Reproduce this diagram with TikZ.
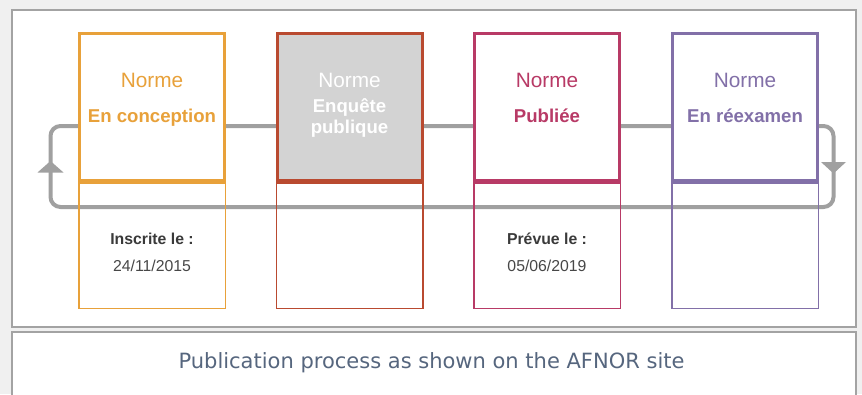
\documentclass[tikz,border=0pt]{standalone}
\usepackage{fontspec}
\setmainfont{Liberation Sans}
\newfontfamily\capfont{DejaVu Sans}
\definecolor{bgc}{HTML}{F0F0F0}
\definecolor{panelc}{HTML}{A3A3A3}
\definecolor{loopc}{HTML}{A0A0A0}
\definecolor{cA}{HTML}{E8A13A}
\definecolor{cB}{HTML}{B94A30}
\definecolor{cC}{HTML}{B83A66}
\definecolor{cD}{HTML}{8270A8}
\definecolor{fillB}{HTML}{D3D3D3}
\definecolor{darkt}{HTML}{3A3A3A}
\definecolor{datet}{HTML}{474747}
\definecolor{capc}{HTML}{56667E}
\tikzset{
  panel/.style={draw=panelc, line width=1.6pt, fill=white},
  loopline/.style={draw=loopc, line width=4pt, rounded corners=10pt},
  upbox/.style={rectangle, fill=white, line width=3pt, minimum width=145pt, minimum height=147pt, inner sep=0pt, outer sep=0pt},
  lowbox/.style={rectangle, line width=1.5pt, minimum width=146.5pt, minimum height=125.5pt, inner sep=0pt, outer sep=0pt},
  normetxt/.style={anchor=base, font=\fontsize{20.8}{24}\selectfont, inner sep=0pt},
  statetxt/.style={anchor=base, font=\fontsize{18.6}{21}\selectfont\bfseries, inner sep=0pt},
  labtxt/.style={anchor=base, font=\fontsize{15.8}{18}\selectfont\bfseries, text=darkt, inner sep=0pt},
  datetxt/.style={anchor=base, font=\fontsize{15.8}{18}\selectfont, text=datet, inner sep=0pt},
  tip/.style={fill=loopc, draw=none}
}
\begin{document}
\begin{tikzpicture}[x=1pt,y=-1pt]
\useasboundingbox (0,0) rectangle (862,394);
\fill[bgc] (0,0) rectangle (862,394);
\draw[panel] (12,10) rectangle (856,327);
\draw[panel] (12,332) rectangle (856,397);

% loop
\coordinate (lTL) at (50.5,126);
\coordinate (lBL) at (50.5,207);
\coordinate (lBR) at (833.5,207);
\coordinate (lTR) at (833.5,126);
\draw[loopline] (lTL) -- (lBL) -- (lBR) -- (lTR) -- cycle;
\fill[tip] (37.5,172.5) -- (50.5,161) -- (63.5,172.5) -- cycle;
\fill[tip] (821,162) -- (846,162) -- (833.5,173.5) -- cycle;

% lower boxes
\node[lowbox, draw=cA] (l1) at (152,245.5) {};
\node[lowbox, draw=cB] (l2) at (349.5,245.5) {};
\node[lowbox, draw=cC] (l3) at (547,245.5) {};
\node[lowbox, draw=cD] (l4) at (745,245.5) {};

% upper boxes
\node[upbox, draw=cA] (u1) at (152,107) {};
\node[upbox, draw=cB, fill=fillB] (u2) at (349.5,107) {};
\node[upbox, draw=cC] (u3) at (547,107) {};
\node[upbox, draw=cD] (u4) at (745,107) {};

% texts
\node[normetxt, text=cA] (n1) at (152,87) {Norme};
\node[statetxt, text=cA] (s1) at (152,122.7) {En conception};
\node[normetxt, text=white] (n2) at (349.5,87) {Norme};
\node[statetxt, text=white] (s2a) at (349.5,112.3) {Enquête};
\node[statetxt, text=white] (s2b) at (349.5,133.5) {publique};
\node[normetxt, text=cC] (n3) at (547,87) {Norme};
\node[statetxt, text=cC] (s3) at (547,122.7) {Publiée};
\node[normetxt, text=cD] (n4) at (745,87) {Norme};
\node[statetxt, text=cD] (s4) at (745,122.7) {En réexamen};

\node[labtxt] (d1a) at (152,244) {Inscrite le :};
\node[datetxt] (d1b) at (152,271.7) {24/11/2015};
\node[labtxt] (d3a) at (547,244) {Prévue le :};
\node[datetxt] (d3b) at (547,271.7) {05/06/2019};

\node[anchor=base, font=\capfont\fontsize{21}{24}\selectfont, text=capc, inner sep=0pt] (cap) at (431.5,368.3) {Publication process as shown on the AFNOR site};
\end{tikzpicture}
\end{document}
